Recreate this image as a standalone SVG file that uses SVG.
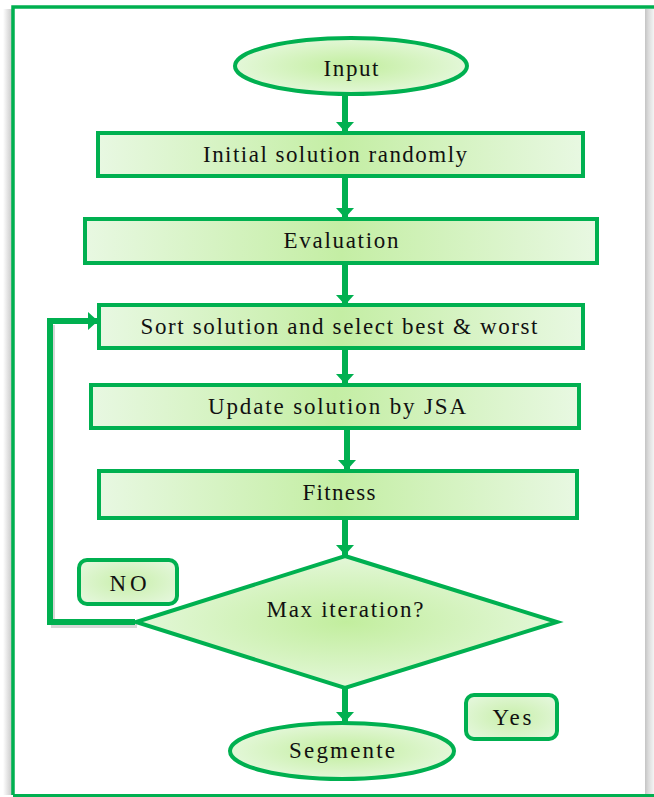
<svg xmlns="http://www.w3.org/2000/svg" width="654" height="797" viewBox="0 0 654 797">
  <style>
    .box { fill: url(#hgrad); stroke: #00b050; stroke-width: 4; }
    .oval { fill: url(#rgrad); stroke: #00b050; stroke-width: 4; }
    .lbl { fill: url(#lgrad); stroke: #00b050; stroke-width: 4; }
    .t { font-family: "Liberation Serif", "Times New Roman", serif; font-size: 23px; fill: #111; text-anchor: middle; }
    .conn { stroke: #00b050; stroke-width: 6; fill: none; }
  </style>
  <defs>
    <linearGradient id="hgrad" x1="0" y1="0" x2="1" y2="0">
      <stop offset="0" stop-color="#e8f8e2"/>
      <stop offset="0.5" stop-color="#c4eea4"/>
      <stop offset="1" stop-color="#e8f8e2"/>
    </linearGradient>
    <radialGradient id="rgrad" cx="0.5" cy="0.5" r="0.6">
      <stop offset="0" stop-color="#c2ee9e"/>
      <stop offset="1" stop-color="#eaf9e4"/>
    </radialGradient>
    <radialGradient id="lgrad" cx="0.5" cy="0.5" r="0.7">
      <stop offset="0" stop-color="#c8efaa"/>
      <stop offset="1" stop-color="#e8f8e2"/>
    </radialGradient>
    <linearGradient id="shadowL" x1="0" y1="0" x2="1" y2="0">
      <stop offset="0" stop-color="#ffffff"/>
      <stop offset="1" stop-color="#c8c8c8"/>
    </linearGradient>
    <linearGradient id="shadowR" x1="0" y1="0" x2="1" y2="0">
      <stop offset="0" stop-color="#c4c4c4"/>
      <stop offset="0.4" stop-color="#dcdcdc"/>
      <stop offset="1" stop-color="#f4f4f4"/>
    </linearGradient>
    <marker id="arr" viewBox="0 0 10 18" refX="10" refY="9" markerWidth="10" markerHeight="18" markerUnits="userSpaceOnUse" orient="auto">
      <path d="M0,0 L10,9 L0,18 Z" fill="#00b050"/>
    </marker>
  </defs>

  <g id="frame">
    <rect x="3" y="9" width="9" height="786" fill="url(#shadowL)"/>
    <rect x="645" y="9" width="9" height="786" fill="url(#shadowR)"/>
    <path d="M13,795 L13,7 L654,7" fill="none" stroke="#00b050" stroke-width="3.5"/>
    <path d="M13,795.5 L654,795.5" fill="none" stroke="#00b050" stroke-width="3"/>
  </g>

  <g id="connectors">
    <line class="conn" x1="345" y1="95" x2="345" y2="132" marker-end="url(#arr)"/>
    <line class="conn" x1="345" y1="177" x2="345" y2="218" marker-end="url(#arr)"/>
    <line class="conn" x1="345" y1="264" x2="345" y2="305" marker-end="url(#arr)"/>
    <line class="conn" x1="345" y1="350" x2="345" y2="384" marker-end="url(#arr)"/>
    <line class="conn" x1="347" y1="429" x2="347" y2="470" marker-end="url(#arr)"/>
    <line class="conn" x1="345" y1="520" x2="345" y2="555" marker-end="url(#arr)"/>
    <line class="conn" x1="345" y1="689" x2="345" y2="722" marker-end="url(#arr)"/>
    <path d="M137,626 L53,626 L53,325" fill="none" stroke="#bdbdbd" stroke-width="4" opacity="0.6"/>
    <path class="conn" d="M135,622 L50,622 L50,321 L98,321" marker-end="url(#arr)"/>
  </g>

  <g id="input">
    <ellipse class="oval" cx="351" cy="66" rx="116" ry="28"/>
    <text class="t" x="351" y="76" textLength="55" lengthAdjust="spacing">Input</text>
  </g>

  <g id="initial">
    <rect class="box" x="98" y="133" width="485" height="43"/>
    <text class="t" x="335" y="162" textLength="264" lengthAdjust="spacing">Initial solution randomly</text>
  </g>

  <g id="evaluation">
    <rect class="box" x="85" y="219" width="512" height="44"/>
    <text class="t" x="341" y="248" textLength="115" lengthAdjust="spacing">Evaluation</text>
  </g>

  <g id="sort">
    <rect class="box" x="99" y="305" width="484" height="43"/>
    <text class="t" x="339" y="334" textLength="397" lengthAdjust="spacing">Sort solution and select best &amp; worst</text>
  </g>

  <g id="update">
    <rect class="box" x="91" y="385" width="488" height="43"/>
    <text class="t" x="337" y="414" textLength="258" lengthAdjust="spacing">Update solution by JSA</text>
  </g>

  <g id="fitness">
    <rect class="box" x="99" y="471" width="478" height="47"/>
    <text class="t" x="339" y="500" textLength="73" lengthAdjust="spacing">Fitness</text>
  </g>

  <g id="decision">
    <polygon class="oval" points="345,556 557,622 345,688 136,622"/>
    <text class="t" x="345" y="617" textLength="157" lengthAdjust="spacing">Max iteration?</text>
  </g>

  <g id="no">
    <rect class="lbl" x="79" y="560" width="98" height="44" rx="8"/>
    <text class="t" x="128" y="591" textLength="37" lengthAdjust="spacing">NO</text>
  </g>

  <g id="yes">
    <rect class="lbl" x="466" y="695" width="91" height="44" rx="8"/>
    <text class="t" x="512" y="725" textLength="39" lengthAdjust="spacing">Yes</text>
  </g>

  <g id="segmente">
    <ellipse class="oval" cx="342" cy="751" rx="112" ry="28"/>
    <text class="t" x="342" y="758" textLength="106" lengthAdjust="spacing">Segmente</text>
  </g>
</svg>
